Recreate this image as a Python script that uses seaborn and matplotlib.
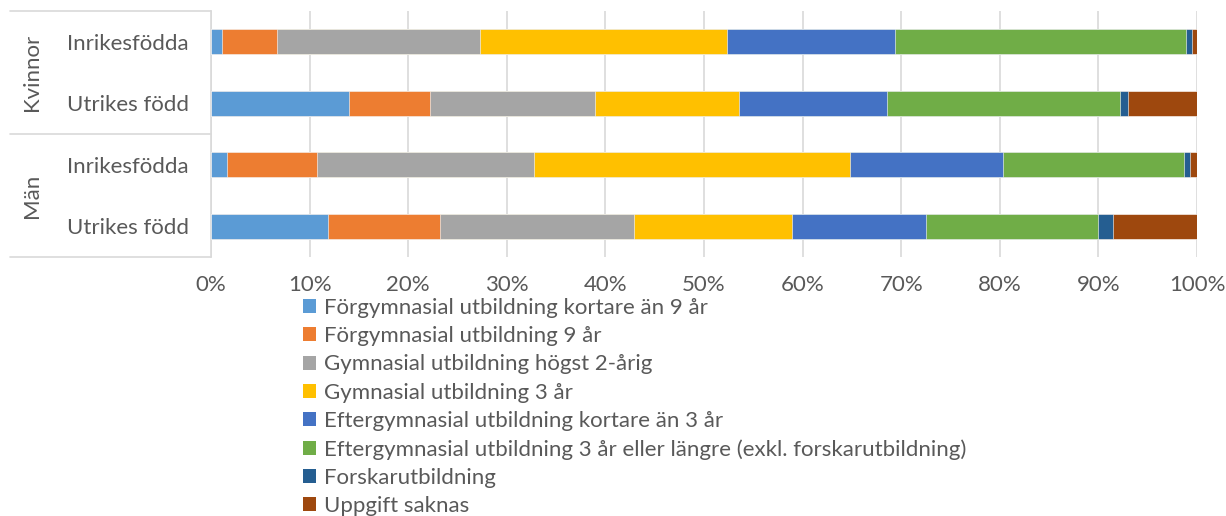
import matplotlib
matplotlib.use("Agg")
import matplotlib.pyplot as plt
import matplotlib.patches as mpatches
from matplotlib.ticker import PercentFormatter
import numpy as np
import pandas as pd
import seaborn as sns

# ---------------- data ----------------
groups = ["Kvinnor", "Kvinnor", "Män", "Män"]
origin = ["Inrikesfödda", "Utrikes född", "Inrikesfödda", "Utrikes född"]

series_names = [
    "Förgymnasial utbildning kortare än 9 år",
    "Förgymnasial utbildning 9 år",
    "Gymnasial utbildning högst 2-årig",
    "Gymnasial utbildning 3 år",
    "Eftergymnasial utbildning kortare än 3 år",
    "Eftergymnasial utbildning 3 år eller längre (exkl. forskarutbildning)",
    "Forskarutbildning",
    "Uppgift saknas",
]
forgymn_kort = [1.1, 14.0, 1.65, 11.9]
forgymn_9 = [5.6, 8.25, 9.15, 11.3]
gymn_2 = [20.6, 16.65, 22.0, 19.7]
gymn_3 = [25.0, 14.7, 32.0, 16.0]
efter_kort = [17.1, 15.0, 15.5, 13.6]
efter_3 = [29.45, 23.6, 18.4, 17.5]
forskar = [0.6, 0.8, 0.6, 1.5]
saknas = [0.55, 7.0, 0.7, 8.5]

x_ticks = [0, 10, 20, 30, 40, 50, 60, 70, 80, 90, 100]

colors = ["#5B9BD5", "#ED7D31", "#A5A5A5", "#FFC000",
          "#4472C4", "#70AD47", "#255E91", "#9E480E"]

series_values = [forgymn_kort, forgymn_9, gymn_2, gymn_3,
                 efter_kort, efter_3, forskar, saknas]

# ---------------- build table ----------------
row_ids = [f"r{i}" for i in range(len(origin))]
df = pd.DataFrame({"row": row_ids})
vals = np.array(series_values)  # (8, 4)
cum = np.cumsum(vals, axis=0)
for i in range(len(series_names)):
    df[f"cum{i}"] = cum[i]

# ---------------- style ----------------
sns.set_style("white")
plt.rcParams["font.family"] = ["Lato", "DejaVu Sans"]
text_color = "#595959"
grid_color = "#D9D9D9"
fs = 16

fig = plt.figure(figsize=(12.26, 5.16), dpi=100)
W, H = 1226, 516
ax = fig.add_axes([211 / W, 1 - 257 / H, (1197 - 211) / W, (257 - 11) / H])

# stacked bars: draw cumulative totals from the longest to shortest
for i in reversed(range(len(series_names))):
    sns.barplot(data=df, x=f"cum{i}", y="row", order=row_ids, orient="h",
                color=colors[i], width=0.4, saturation=1,
                edgecolor="white", linewidth=0.4, ax=ax, zorder=3)

ax.set_xlim(0, 100)
ax.set_ylim(3.5, -0.5)
ax.set_xticks(x_ticks)
ax.xaxis.set_major_formatter(PercentFormatter(100, decimals=0))
ax.set_xlabel("")
ax.set_ylabel("")
ax.set_yticks(range(len(origin)))
ax.set_yticklabels(origin)

ax.grid(axis="x", color=grid_color, linewidth=1.2, zorder=0)
ax.grid(axis="y", visible=False)
ax.set_axisbelow(True)
for s in ["top", "right", "bottom"]:
    ax.spines[s].set_visible(False)
ax.spines["left"].set_color(grid_color)
ax.spines["left"].set_linewidth(1.2)

ax.tick_params(axis="x", length=0, pad=13, labelsize=fs, labelcolor=text_color)
ax.tick_params(axis="y", length=0, pad=16, labelsize=fs, labelcolor=text_color)

# multi-level category axis: group labels and separator lines
x_left = 10 / W
for yb in [-0.5, 1.5, 3.5]:
    y_fig = fig.transFigure.inverted().transform(ax.transData.transform((0, yb)))[1]
    fig.add_artist(plt.Line2D([x_left, 211 / W], [y_fig, y_fig],
                              color=grid_color, linewidth=1.2))

for g in ["Kvinnor", "Män"]:
    idx = [i for i, gg in enumerate(groups) if gg == g]
    yc = (idx[0] + idx[-1]) / 2
    y_fig = fig.transFigure.inverted().transform(ax.transData.transform((0, yc)))[1]
    fig.text(32 / W, y_fig, g, rotation=90, ha="center", va="center",
             fontsize=fs, color=text_color)

# legend
handles = [mpatches.Patch(facecolor=c, edgecolor="none") for c in colors]
fig.legend(handles, series_names, loc="upper left",
           bbox_to_anchor=(303 / W, 1 - 298 / H), frameon=False,
           fontsize=fs, labelcolor=text_color, borderpad=0, borderaxespad=0,
           handlelength=0.6, handleheight=0.6, handletextpad=0.35,
           labelspacing=0.37)

fig.savefig("out.png", dpi=100)
